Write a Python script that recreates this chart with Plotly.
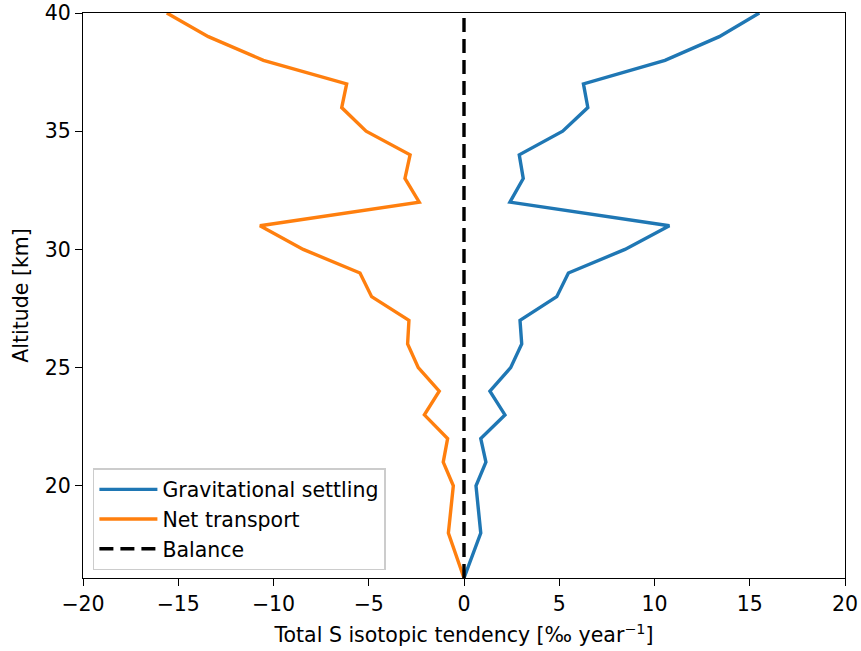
import plotly.graph_objects as go

altitude = [16.1, 18, 20, 21, 22, 23, 24, 25, 26, 27, 28, 29, 30, 31, 32, 33, 34, 35, 36, 37, 38, 39, 40]
grav_settling = [0.0, 0.88, 0.63, 1.15, 0.88, 2.15, 1.36, 2.45, 3.03, 2.94, 4.87, 5.48, 8.45, 10.78,
                 2.41, 3.11, 2.9, 5.18, 6.5, 6.27, 10.55, 13.4, 15.5]
net_transport = [0.0, -0.82, -0.56, -1.09, -0.86, -2.08, -1.3, -2.4, -2.96, -2.89, -4.85, -5.46, -8.44, -10.71,
                 -2.35, -3.1, -2.83, -5.14, -6.42, -6.16, -10.53, -13.42, -15.6]
balance_x = [0, 0]
balance_y = [16.1, 40]

x_ticks = [-20, -15, -10, -5, 0, 5, 10, 15, 20]
x_ticklabels = ["\u221220", "\u221215", "\u221210", "\u22125", "0", "5", "10", "15", "20"]
y_ticks = [20, 25, 30, 35, 40]

FONT = "DejaVu Sans"
FS = 20.5

fig = go.Figure()
fig.add_trace(go.Scatter(x=grav_settling, y=altitude, mode="lines", name="Gravitational settling",
                         line=dict(color="#1f77b4", width=3.4)))
fig.add_trace(go.Scatter(x=net_transport, y=altitude, mode="lines", name="Net transport",
                         line=dict(color="#ff7f0e", width=3.4)))
fig.add_trace(go.Scatter(x=balance_x, y=balance_y, mode="lines", name="Balance",
                         line=dict(color="black", width=3.4, dash="14px,7px")))

axis_common = dict(showgrid=False, zeroline=False, showline=True, linecolor="black", linewidth=1,
                   mirror=True, ticks="outside", ticklen=7, tickwidth=1, tickcolor="black",
                   automargin=False,
                   tickfont=dict(family=FONT, size=FS, color="black"))

fig.update_xaxes(range=[-20, 20], tickvals=x_ticks, ticktext=x_ticklabels,
                 title=dict(text="Total S isotopic tendency [\u2030 year<sup>\u22121</sup>]",
                            font=dict(family=FONT, size=FS, color="black"), standoff=13),
                 **axis_common)
fig.update_yaxes(range=[16.1, 40], tickvals=y_ticks,
                 title=dict(text="Altitude [km]", font=dict(family=FONT, size=FS, color="black"), standoff=10),
                 **axis_common)

fig.update_layout(
    width=861, height=651,
    margin=dict(l=83, r=16, t=13, b=73),
    paper_bgcolor="white", plot_bgcolor="white",
    font=dict(family=FONT, size=FS, color="black"),
    legend=dict(x=0.013, y=0.014, xanchor="left", yanchor="bottom",
                bgcolor="rgba(255,255,255,0.8)", bordercolor="#cccccc", borderwidth=1.5,
                font=dict(family=FONT, size=FS, color="black"), itemwidth=58,
                tracegroupgap=0),
    showlegend=True,
)

fig.write_html("out.html")
